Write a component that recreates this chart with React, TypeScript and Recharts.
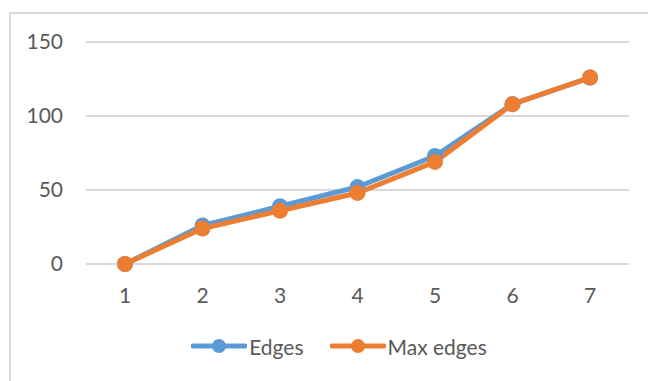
import React from 'react';
import { LineChart, Line, XAxis, YAxis, CartesianGrid, Legend } from 'recharts';

const steps = ['1', '2', '3', '4', '5', '6', '7'];
const edges = [0, 26, 39, 52, 73, 108, 126];
const maxEdges = [0, 24, 36, 48, 69, 108, 126];
const yTicks = [0, 50, 100, 150];

const BLUE = '#5B9BD5';
const ORANGE = '#ED7D31';
const TEXT = '#595959';
const FONT = 'Lato, "Open Sans", sans-serif';

const data = steps.map((s, i) => ({ step: s, edges: edges[i], maxEdges: maxEdges[i] }));

const legendItems = [
  { label: 'Edges', color: BLUE },
  { label: 'Max edges', color: ORANGE },
];

const LegendContent = () => (
  <div style={{ display: 'flex', justifyContent: 'center', alignItems: 'center', height: 30, paddingLeft: 30, fontFamily: FONT, fontSize: 21, color: TEXT }}>
    {legendItems.map((item, i) => (
      <div key={item.label} style={{ display: 'flex', alignItems: 'center', marginLeft: i > 0 ? 26 : 0 }}>
        <svg width={56} height={20} style={{ marginRight: 2 }}>
          <line x1={2} y1={10} x2={54} y2={10} stroke={item.color} strokeWidth={5} strokeLinecap="round" />
          <circle cx={28} cy={10} r={7} fill={item.color} />
        </svg>
        <span>{item.label}</span>
      </div>
    ))}
  </div>
);

export default function App() {
  return (
    <div style={{ position: 'absolute', left: 0, top: 0, width: 648, height: 381, overflow: 'hidden', background: '#fff' }}>
      <div style={{ position: 'absolute', left: 9, top: 12, width: 800, height: 600, border: '2px solid #d9d9d9' }} />
      <div style={{ position: 'absolute', left: 0, top: 0 }}>
        <LineChart width={648} height={381} data={data} margin={{ top: 42, right: 19, left: 26, bottom: 20 }}>
          <CartesianGrid vertical={false} stroke="#d9d9d9" strokeWidth={2} />
          <XAxis
            dataKey="step"
            height={67}
            padding={{ left: 39, right: 39 }}
            axisLine={false}
            tickLine={false}
            tickSize={0}
            tickMargin={24}
            tick={{ fill: TEXT, fontSize: 21, fontFamily: FONT }}
          />
          <YAxis
            width={60}
            domain={[0, 150]}
            ticks={yTicks}
            axisLine={false}
            tickLine={false}
            tickSize={0}
            tickMargin={23}
            tick={{ fill: TEXT, fontSize: 21, fontFamily: FONT }}
          />
          <Legend verticalAlign="bottom" height={30} wrapperStyle={{ left: 0, width: 648 }} content={<LegendContent />} />
          <Line
            dataKey="edges"
            name="Edges"
            stroke={BLUE}
            strokeWidth={5}
            strokeLinejoin="round"
            dot={{ r: 8, fill: BLUE, stroke: 'none' }}
            isAnimationActive={false}
          />
          <Line
            dataKey="maxEdges"
            name="Max edges"
            stroke={ORANGE}
            strokeWidth={5}
            strokeLinejoin="round"
            dot={{ r: 8, fill: ORANGE, stroke: 'none' }}
            isAnimationActive={false}
          />
        </LineChart>
      </div>
    </div>
  );
}
